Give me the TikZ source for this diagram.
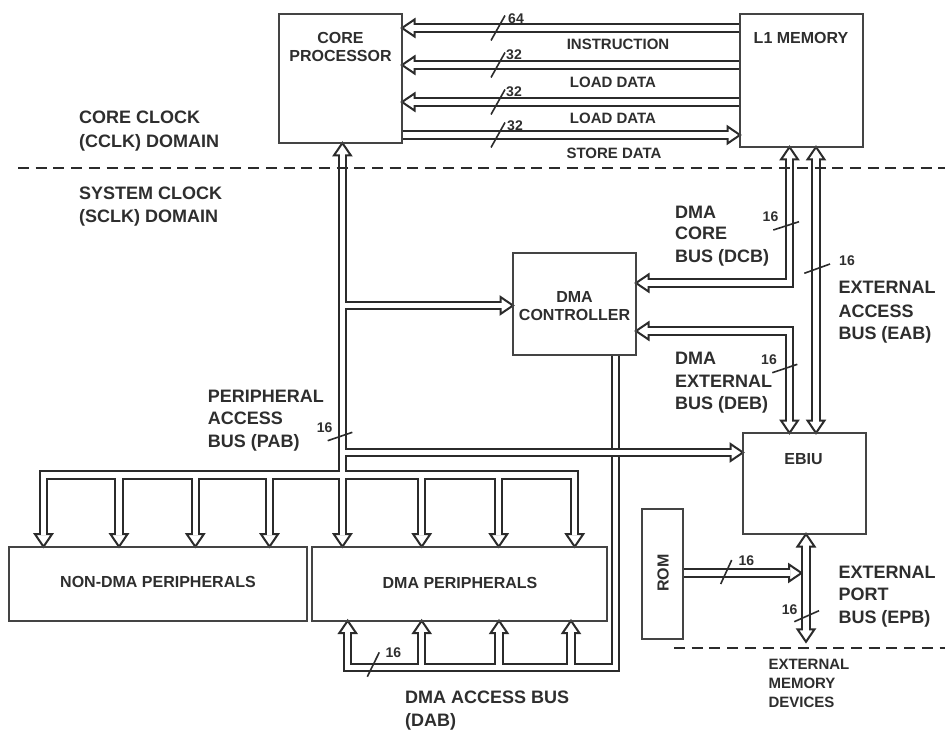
\documentclass[tikz,border=0pt]{standalone}
\usepackage{fontspec}
\setmainfont{Liberation Sans}
\definecolor{ln}{HTML}{2B2B2B}
\definecolor{bx}{HTML}{444444}
\definecolor{tx}{HTML}{2E2E2E}
\tikzset{
 busout/.style={draw=ln, line width=9.2bp, line join=miter, line cap=butt},
 busin/.style={draw=white, line width=5.2bp, line join=miter, line cap=butt},
 box/.style={draw=bx, line width=1.9bp, rectangle, inner sep=0pt, outer sep=0pt, anchor=north west},
 lbl/.style={text=tx, font=\bfseries\fontsize{18bp}{21bp}\selectfont, inner sep=0pt, anchor=base west},
 mlbl/.style={text=tx, font=\bfseries\fontsize{15bp}{18bp}\selectfont, inner sep=0pt, anchor=base},
 blbl/.style={text=tx, font=\bfseries\fontsize{16bp}{19bp}\selectfont, inner sep=0pt, anchor=base},
 slbl/.style={text=tx, font=\bfseries\fontsize{15bp}{18bp}\selectfont, inner sep=0pt, anchor=base west},
 num/.style={text=tx, font=\bfseries\fontsize{14bp}{16bp}\selectfont, inner sep=0pt},
 slash/.style={draw=ln, line width=1.6bp},
 sep/.style={draw=ln, line width=2.1bp, dash pattern=on 11bp off 6.7bp},
}
\newcommand\ahd[2]{\filldraw[fill=white, draw=ln, line width=2bp, line join=miter, shift={#1}, rotate=#2] (0,0) -- (-12.5,8.5) -- (-12.5,-8.5) -- cycle;}
\newcommand\grponepaths[1]{%
 \draw[#1] (615.7,355) -- (615.7,667.5) -- (347.7,667.5) -- (347.7,632);
 \foreach \x in {421.7,499,571} {\draw[#1] (\x,667.5) -- (\x,632);}
}
\newcommand\grponeheads{\foreach \x in {347.7,421.7,499,571} {\ahd{(\x,620.7)}{90}}}
\newcommand\grptwopaths[1]{%
 \foreach \y in {28,65,102} {\draw[#1] (740,\y) -- (413.3,\y);}
 \draw[#1] (402,135) -- (728.7,135);
 \draw[#1] (342.4,154.3) -- (342.4,535.4);
 \draw[#1] (342.4,305.5) -- (501.7,305.5);
 \draw[#1] (342.4,452.5) -- (731.7,452.5);
 \draw[#1] (43.5,535.4) -- (43.5,475) -- (574.7,475) -- (574.7,535.4);
 \foreach \x in {119,195.3,269.5,421.7,498.7} {\draw[#1] (\x,475) -- (\x,535.4);}
 \draw[#1] (789.5,158.3) -- (789.5,283) -- (647.3,283);
 \draw[#1] (647.3,331) -- (789.5,331) -- (789.5,421.7);
 \draw[#1] (816,158.3) -- (816,421.7);
 \draw[#1] (806,545.3) -- (806,630.5);
 \draw[#1] (683,573) -- (790.2,573);
}
\newcommand\grptwoheads{%
 \foreach \y in {28,65,102} {\ahd{(402,\y)}{180}}
 \ahd{(740,135)}{0}
 \ahd{(342.4,143)}{90}
 \ahd{(513,305.5)}{0}
 \ahd{(743,452.5)}{0}
 \foreach \x in {43.5,119,195.3,269.5,342.4,421.7,498.7,574.7} {\ahd{(\x,546.7)}{-90}}
 \ahd{(789.5,147)}{90}
 \ahd{(636,283)}{180}
 \ahd{(636,331)}{180}
 \ahd{(789.5,433)}{-90}
 \ahd{(816,147)}{90}
 \ahd{(816,433)}{-90}
 \ahd{(806,534)}{90}
 \ahd{(806,641.8)}{-90}
 \ahd{(801.5,573)}{0}
}
\begin{document}
\begin{tikzpicture}[x=1bp, y=-1bp]
\useasboundingbox (0,0) rectangle (945,731);
% DMA controller / DAB bus (drawn first, crossed by the EBIU bus)
\grponepaths{busout}
\grponeheads
\grponepaths{busin}
% all other buses
\grptwopaths{busout}
\grptwoheads
\grptwopaths{busin}
% boxes
\node[box, minimum width=123bp, minimum height=129bp] (core) at (279,14) {};
\node[box, minimum width=123bp, minimum height=133bp] (l1) at (740,14) {};
\node[box, minimum width=123bp, minimum height=102bp] (dmac) at (513,253) {};
\node[box, minimum width=123bp, minimum height=101bp] (ebiu) at (743,433) {};
\node[box, minimum width=41bp, minimum height=130bp] (rom) at (642,509) {};
\node[box, minimum width=298bp, minimum height=74bp] (nondma) at (9,547) {};
\node[box, minimum width=295bp, minimum height=74bp] (dmaper) at (312,547) {};
% clock domain separators
\coordinate (sepa) at (18,168);
\coordinate (sepb) at (945,168);
\coordinate (sepc) at (674,647.7);
\coordinate (sepd) at (945,647.7);
\draw[sep] (sepa) -- (sepb);
\draw[sep] (sepc) -- (sepd);
% bus width slashes
\foreach \y in {28,65,102,135} {\draw[slash] (491,\y+12.5) -- (505,\y-12.5);}
\draw[slash] (773.3,230) -- (799,221.7);
\draw[slash] (804.3,273.3) -- (830,264);
\draw[slash] (772.3,372.7) -- (797.3,364.3);
\draw[slash] (327.7,440.7) -- (352.3,432.3);
\draw[slash] (720.7,584) -- (731.7,560);
\draw[slash] (794.3,621.7) -- (819,610.7);
\draw[slash] (367.3,676.7) -- (379.3,652.3);
% numbers
\node[num] (n64) at (516,18.5) {64};
\node[num] (n32a) at (514,54.7) {32};
\node[num] (n32b) at (514,92) {32};
\node[num] (n32c) at (515,125.3) {32};
\node[num] (ndcb) at (770.5,217) {16};
\node[num] (neab) at (847,260.5) {16};
\node[num] (ndeb) at (769,359.5) {16};
\node[num] (npab) at (324.7,427.5) {16};
\node[num] (nrom) at (746.3,560.5) {16};
\node[num] (nepb) at (789.7,610) {16};
\node[num] (ndab) at (393.3,652.5) {16};
% box labels
\node[blbl] (tcore1) at (340.5,43.4) {CORE};
\node[blbl] (tcore2) at (340.5,61.5) {PROCESSOR};
\node[blbl] (tl1) at (801,44) {L1 MEMORY};
\node[blbl] (tdmac1) at (574.5,302.4) {DMA};
\node[blbl] (tdmac2) at (574.5,320.2) {CONTROLLER};
\node[blbl] (tebiu) at (803.5,464.5) {EBIU};
\node[blbl, anchor=center, rotate=90] (trom) at (663,573) {ROM};
\node[blbl, anchor=center] (tnondma) at (158,581.5) {NON-DMA PERIPHERALS};
\node[blbl, anchor=center] (tdmaper) at (460,583) {DMA PERIPHERALS};
% bus labels
\node[mlbl] (tinst) at (618,49.4) {INSTRUCTION};
\node[mlbl] (tld1) at (613,87.4) {LOAD DATA};
\node[mlbl] (tld2) at (613,123.4) {LOAD DATA};
\node[mlbl] (tst) at (614,158.4) {STORE DATA};
\node[lbl] (tcc1) at (79,123.4) {CORE CLOCK};
\node[lbl] (tcc2) at (79,147.4) {(CCLK) DOMAIN};
\node[lbl] (tsc1) at (79,199.4) {SYSTEM CLOCK};
\node[lbl] (tsc2) at (79,222.4) {(SCLK) DOMAIN};
\node[lbl] (tdcb1) at (675,218) {DMA};
\node[lbl] (tdcb2) at (675,239.7) {CORE};
\node[lbl] (tdcb3) at (675,262) {BUS (DCB)};
\node[lbl] (teab1) at (838.3,293) {EXTERNAL};
\node[lbl] (teab2) at (838.3,317) {ACCESS};
\node[lbl] (teab3) at (838.3,339.7) {BUS (EAB)};
\node[lbl] (tdeb1) at (675,364.7) {DMA};
\node[lbl] (tdeb2) at (675,387) {EXTERNAL};
\node[lbl] (tdeb3) at (675,409.7) {BUS (DEB)};
\node[lbl] (tpab1) at (207.7,402.4) {PERIPHERAL};
\node[lbl] (tpab2) at (207.7,424) {ACCESS};
\node[lbl] (tpab3) at (207.7,447) {BUS (PAB)};
\node[lbl] (tepb1) at (838.3,578) {EXTERNAL};
\node[lbl] (tepb2) at (838.3,600.4) {PORT};
\node[lbl] (tepb3) at (838.3,623.7) {BUS (EPB)};
\node[lbl] (tdab1) at (405,703) {DMA ACCESS BUS};
\node[lbl] (tdab2) at (405,726.4) {(DAB)};
\node[slbl] (tem1) at (768.3,669.7) {EXTERNAL};
\node[slbl] (tem2) at (768.3,688.1) {MEMORY};
\node[slbl] (tem3) at (768.3,707.1) {DEVICES};
\end{tikzpicture}
\end{document}
